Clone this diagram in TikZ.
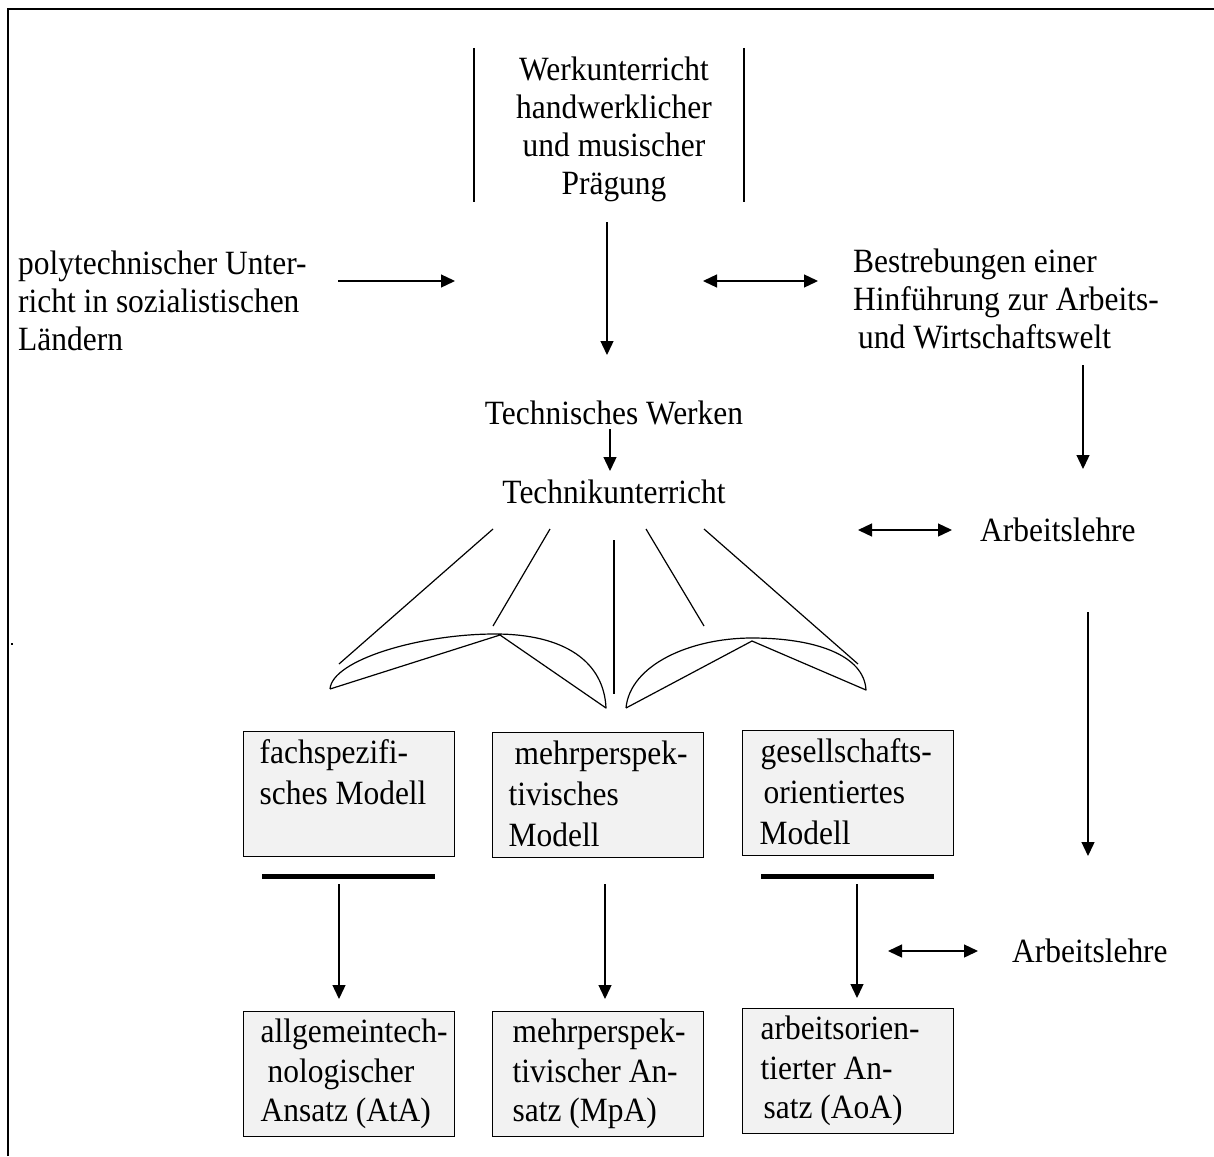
\documentclass[tikz,border=0pt]{standalone}
\usepackage{fontspec}
\setmainfont{Liberation Serif}[FakeStretch=0.925]
\usetikzlibrary{arrows.meta}
\definecolor{boxgray}{RGB}{242,242,242}

% top-aligned text block of a model box; every line is given as its own box
% #1: line distance, #2: the lines
\newcommand{\boxlines}[2][39.5]{\parbox[t][118pt][t]{179pt}{\fontsize{34}{#1}\selectfont\raggedright\strut #2}}

\begin{document}
\begin{tikzpicture}[x=1pt,y=-1pt,
  every node/.style={font=\fontsize{34}{38}\selectfont, inner sep=0pt},
  arr/.style={line width=1.3pt, -{Triangle[length=14pt,width=13pt]}},
  darr/.style={line width=1.3pt, {Triangle[length=14pt,width=13pt]}-{Triangle[length=14pt,width=13pt]}},
  fanline/.style={line width=1.2pt},
  sideline/.style={line width=1.2pt},
  bar/.style={line width=5pt},
  modelbox/.style={draw, line width=1.3pt, fill=boxgray, inner xsep=16pt, inner ysep=3.5pt, anchor=north west}
]
\useasboundingbox (0,0) rectangle (1214,1156);

% outer frame (top and left edges only)
\draw[line width=2.5pt] (8,1156) -- (8,9) -- (1214,9);
\fill (11,643) rectangle (13,645);

% head: Werkunterricht between two vertical rules
\node[align=center] (werk) at (614,129) {Werkunterricht\\handwerklicher\\und musischer\\Prägung};
\draw[sideline] (474,48) -- (474,202);
\draw[sideline] (744,48) -- (744,202);

% left and right influences
\node[align=left, anchor=west] (poly) at (18,301) {polytechnischer Unter-\\richt in sozialistischen\\Ländern};
\node[align=left, anchor=west] (bestr) at (853,299) {Bestrebungen einer\\Hinführung zur Arbeits-\\\hspace*{5pt}und Wirtschaftswelt};

\coordinate (polyA) at (338,281);
\coordinate (polyB) at (455,281);
\draw[arr] (polyA) -- (polyB);

\coordinate (bestrA) at (703,281);
\coordinate (bestrB) at (818,281);
\draw[darr] (bestrA) -- (bestrB);

\coordinate (werkA) at (607,222);
\coordinate (werkB) at (607,355);
\draw[arr] (werkA) -- (werkB);

% central chain
\node (tw) at (614,413) {Technisches Werken};
\node (tu) at (614,492) {Technikunterricht};
\draw[arr] (610,429) -- (610,471);

% right column: Arbeitslehre
\coordinate (bestrC) at (1083,365);
\coordinate (al1top) at (1083,469);
\draw[arr] (bestrC) -- (al1top);

\node[anchor=west] (al1) at (980,530) {Arbeitslehre};
\coordinate (al1L) at (858,530);
\coordinate (al1R) at (952,530);
\draw[darr] (al1L) -- (al1R);

\coordinate (al1dn) at (1088,612);
\coordinate (al1end) at (1088,856);
\draw[arr] (al1dn) -- (al1end);

\node[anchor=west] (al2) at (1012,951) {Arbeitslehre};
\coordinate (al2L) at (888,951);
\coordinate (al2R) at (978,951);
\draw[darr] (al2L) -- (al2R);

% fan of lines below Technikunterricht
\draw[fanline] (493,529) -- (339,664);
\draw[fanline] (550,529) -- (493,626);
\draw[fanline] (614,540) -- (614,694);
\draw[fanline] (646,529) -- (704,626);
\draw[fanline] (704,529) -- (858,664);

% two lens shapes
\draw[fanline, line join=round] (330,689) -- (500,635) -- (606,708)
  .. controls (604,662) and (565,634) .. (495,634)
  .. controls (420,634) and (332,660) .. (330,689);
\draw[fanline, line join=round] (626,708) -- (752,641) -- (866,690)
  .. controls (864,655) and (815,638) .. (752,638)
  .. controls (690,638) and (630,665) .. (626,708);

% models
\node[modelbox] (m1) at (243,731) {\boxlines[41]{\mbox{fachspezifi-}\\\mbox{sches Modell}}};
\node[modelbox] (m2) at (492,732) {\boxlines[41]{\mbox{\hspace*{6pt}mehrperspek-}\\\mbox{tivisches}\\\mbox{Modell}}};
\node[modelbox] (m3) at (742,730) {\boxlines[41]{\mbox{\hspace*{2pt}gesellschafts-}\\\mbox{\hspace*{5pt}orientiertes}\\\mbox{\hspace*{1pt}Modell}}};

\draw[bar] (262,876) -- (435,876);
\draw[bar] (761,876) -- (934,876);

% approaches
\node[modelbox] (a1) at (243,1011) {\boxlines{\mbox{\hspace*{1pt}allgemeintech-}\\\mbox{\hspace*{8pt}nologischer}\\\mbox{\hspace*{1pt}Ansatz (AtA)}}};
\node[modelbox] (a2) at (492,1011) {\boxlines{\mbox{\hspace*{4pt}mehrperspek-}\\\mbox{\hspace*{4pt}tivischer An-}\\\mbox{\hspace*{4pt}satz (MpA)}}};
\node[modelbox] (a3) at (742,1008) {\boxlines{\mbox{\hspace*{2pt}arbeitsorien-}\\\mbox{\hspace*{2pt}tierter An-}\\\mbox{\hspace*{5pt}satz (AoA)}}};

\coordinate (s1) at (339,884);
\coordinate (s2) at (605,884);
\coordinate (s3) at (857,884);
\draw[arr, shorten >=12pt] (s1) -- (s1 |- a1.north);
\draw[arr, shorten >=12pt] (s2) -- (s2 |- a2.north);
\draw[arr, shorten >=10pt] (s3) -- (s3 |- a3.north);
\end{tikzpicture}
\end{document}
